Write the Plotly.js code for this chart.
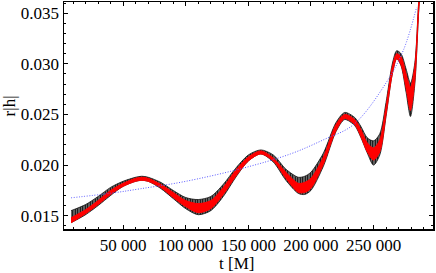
<!DOCTYPE html>
<html>
<head>
<meta charset="utf-8">
<script src="https://cdn.plot.ly/plotly-3.0.1.min.js"></script>
<style>
html,body{margin:0;padding:0;background:#fff}
#plot{width:436px;height:273px}
</style>
</head>
<body>
<div id="plot"></div>
<script>
// envelope sample times (M)
var t = [8400, 20000, 30000, 40000, 50000, 60000, 65000, 70000, 80000, 90000, 100000, 110000, 120000, 130000, 140000, 150000, 160000, 170000, 180000, 190000, 195000, 200000, 210000, 220000, 227000, 235000, 240000, 245000, 250000, 255000, 260000, 265000, 268500, 272000, 276000, 279500, 283000, 286000, 288000];
// oscillating signal envelope (black band)
var blackLo = [0.0143, 0.0151, 0.0160, 0.0170, 0.0179, 0.0184, 0.0185, 0.0184, 0.0177, 0.0167, 0.0157, 0.0151, 0.0155, 0.0169, 0.0188, 0.0204, 0.0211, 0.0203, 0.0185, 0.0172, 0.0171, 0.0175, 0.0199, 0.0233, 0.0245, 0.0239, 0.0227, 0.0212, 0.0200, 0.0210, 0.0248, 0.0290, 0.0305, 0.0298, 0.0272, 0.0248, 0.0280, 0.0350, 0.0385];
var blackHi = [0.0155, 0.0161, 0.0169, 0.0178, 0.0184, 0.0188, 0.0189, 0.0188, 0.0183, 0.0175, 0.0168, 0.0166, 0.0169, 0.0181, 0.0197, 0.0210, 0.0215, 0.0210, 0.0196, 0.0188, 0.0189, 0.0193, 0.0212, 0.0242, 0.0252, 0.0247, 0.0238, 0.0227, 0.0224, 0.0231, 0.0262, 0.0300, 0.0313, 0.0310, 0.0295, 0.0281, 0.0301, 0.0360, 0.0392];
// red band
var redLo = [0.0143, 0.0152, 0.0161, 0.0171, 0.0179, 0.0184, 0.0185, 0.0184, 0.0178, 0.0168, 0.0159, 0.0153, 0.0157, 0.0171, 0.0189, 0.0204, 0.0211, 0.0204, 0.0187, 0.0173, 0.0173, 0.0177, 0.0201, 0.0234, 0.0246, 0.0240, 0.0228, 0.0213, 0.0205, 0.0213, 0.0250, 0.0290, 0.0305, 0.0299, 0.0276, 0.0254, 0.0284, 0.0352, 0.0386];
var redHi = [0.0148, 0.0156, 0.0165, 0.0175, 0.0182, 0.0187, 0.0188, 0.0187, 0.0181, 0.0173, 0.0165, 0.0162, 0.0165, 0.0178, 0.0195, 0.0208, 0.0214, 0.0207, 0.0193, 0.0182, 0.0183, 0.0187, 0.0208, 0.0240, 0.0250, 0.0245, 0.0235, 0.0222, 0.0217, 0.0225, 0.0258, 0.0297, 0.0310, 0.0307, 0.0290, 0.0277, 0.0298, 0.0358, 0.0390];
// blue dotted curve
var tBlue = [8400, 40000, 63600, 98000, 143600, 183600, 210000, 234000, 260400, 274000, 284400];
var blue = [0.01677, 0.01722, 0.01766, 0.01835, 0.01963, 0.0211, 0.0225, 0.0240, 0.0282, 0.0314, 0.0356];
// ticks
var xTickVals = [50000, 100000, 150000, 200000, 250000];
var xTickText = ['50 000', '100 000', '150 000', '200 000', '250 000'];
var yTickVals = [0.015, 0.020, 0.025, 0.030, 0.035];
var yTickText = ['0.015', '0.020', '0.025', '0.030', '0.035'];

var traces = [
  {x: t, y: blackLo, mode: 'lines', line: {color: '#111', width: 0.8, shape: 'spline', smoothing: 0.8}, hoverinfo: 'skip'},
  {x: t, y: blackHi, mode: 'lines', line: {color: '#111', width: 0.8, shape: 'spline', smoothing: 0.8}, fill: 'tonexty',
   fillcolor: '#555', fillpattern: {shape: '|', fgcolor: '#000', bgcolor: '#8a8a8a', size: 2.5, solidity: 0.5}, hoverinfo: 'skip'},
  {x: t, y: redLo, mode: 'lines', line: {color: '#ff0000', width: 1, shape: 'spline', smoothing: 0.8}, hoverinfo: 'skip'},
  {x: t, y: redHi, mode: 'lines', line: {color: '#ff0000', width: 1, shape: 'spline', smoothing: 0.8}, fill: 'tonexty', fillcolor: '#ff0000', hoverinfo: 'skip'},
  {x: tBlue, y: blue, mode: 'lines', line: {color: '#5a5aff', width: 1, dash: '1px,1.6px', shape: 'spline'}, hoverinfo: 'skip'}
];

var fam = 'Liberation Serif, Times New Roman, serif';
function mkFont() { return {family: fam, size: 17, color: '#000'}; }
var layout = {
  width: 436, height: 273,
  margin: {l: 64, r: 3, t: 2, b: 44},
  paper_bgcolor: '#fff', plot_bgcolor: '#fff',
  showlegend: false,
  font: mkFont(),
  xaxis: {
    range: [2800, 297500], tickmode: 'array', tickvals: xTickVals, ticktext: xTickText,
    ticks: 'inside', ticklen: 4, tickwidth: 1, tickcolor: '#000',
    showline: true, linecolor: '#000', linewidth: 1.5, mirror: 'allticks',
    showgrid: false, zeroline: false, tickfont: mkFont(),
    minor: {dtick: 10000, tick0: 0, ticks: 'inside', ticklen: 2, tickcolor: '#000', showgrid: false}
  },
  yaxis: {
    range: [0.01369, 0.03611], tickmode: 'array', tickvals: yTickVals, ticktext: yTickText,
    ticks: 'inside', ticklen: 4, tickwidth: 1, tickcolor: '#000',
    showline: true, linecolor: '#000', linewidth: 1.5, mirror: 'allticks',
    showgrid: false, zeroline: false, tickfont: mkFont(),
    minor: {dtick: 0.001, tick0: 0, ticks: 'inside', ticklen: 2, tickcolor: '#000', showgrid: false}
  },
  annotations: [
    {text: 'r|h|', textangle: -90, xref: 'paper', yref: 'paper', x: 0, xshift: -55, y: 0.54,
     xanchor: 'center', yanchor: 'middle', showarrow: false, font: mkFont()},
    {text: 't [M]', xref: 'paper', yref: 'paper', x: 0.468, y: 0, yshift: -34,
     xanchor: 'center', yanchor: 'middle', showarrow: false, font: mkFont()}
  ]
};
Plotly.newPlot('plot', traces, layout, {staticPlot: true, displayModeBar: false});
</script>
</body>
</html>
